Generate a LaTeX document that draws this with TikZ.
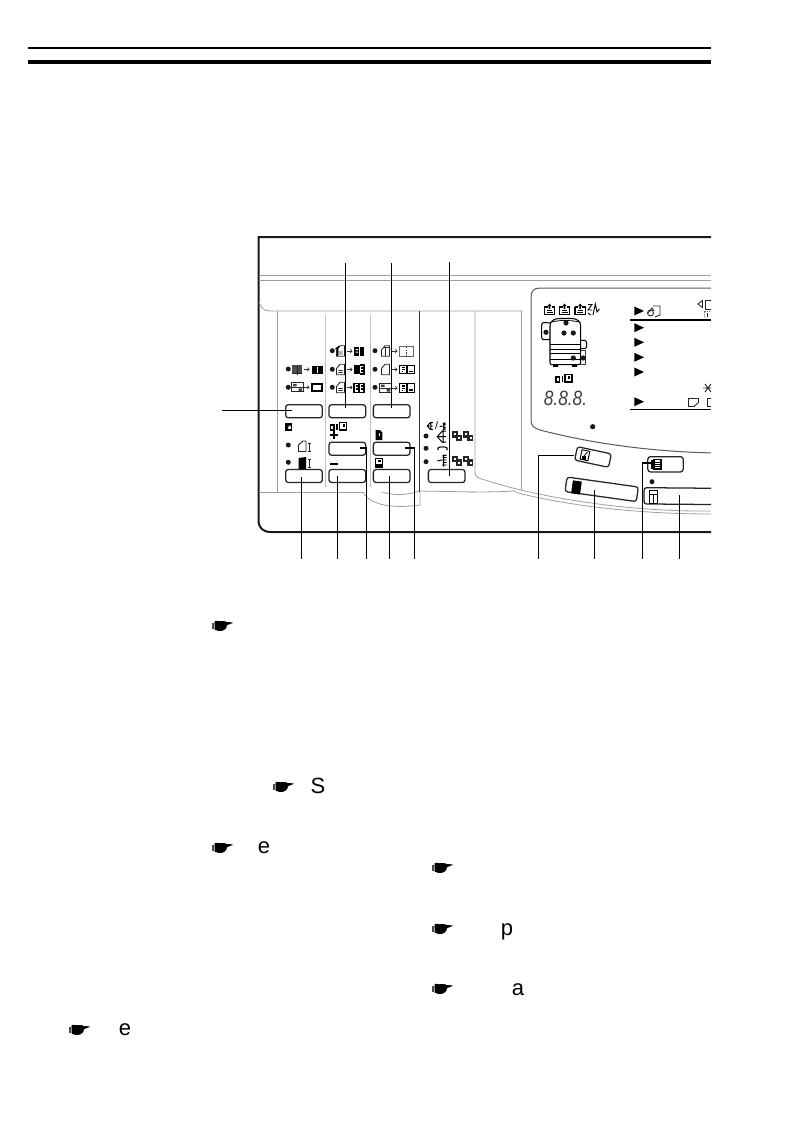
\documentclass[tikz,border=0pt]{standalone}
\usepackage{fontspec}
\setmainfont{Liberation Sans}
\newfontfamily\handfont{DejaVu Sans}
\usetikzlibrary{arrows.meta}
\definecolor{panelgrey}{gray}{0.62}
\definecolor{edgegrey}{gray}{0.35}
\tikzset{
  frame/.style={line width=1.5pt,black!90},
  thin grey/.style={line width=0.6pt,panelgrey},
  panel line/.style={line width=0.75pt,edgegrey},
  btn/.style={draw=black!85,line width=0.95pt,rounded corners=2pt,inner sep=0pt,fill=white},
  leader/.style={line width=0.8pt,black},
  led/.style={fill=black!90},
  ic/.style={line width=0.65pt,black!85},
  handmark/.style={font=\handfont\fontsize{12}{12}\selectfont,inner sep=0pt},
  bodytext/.style={font=\fontsize{16.5}{16.5}\selectfont,inner sep=0pt},
  tinyarrow/.style={line width=0.5pt,black!80,-{Straight Barb[length=1.2pt,width=2.6pt]}},
  srcdoc/.pic={\draw[ic] (-4,5.2)--(-4,-1)--(-0.5,-5.2)--(4,-5.2)--(4,5.2)--cycle (-2.2,1)--(2.2,1) (-2.2,3)--(2.2,3);},
  srcdocd/.pic={\draw[ic] (-4,5.2)--(-4,-1)--(-0.5,-5.2)--(4,-5.2)--(4,5.2)--cycle (-2.2,1)--(2.2,1) (-2.2,3)--(2.2,3); \draw[line width=0.9pt] (-2.8,-3)--(-2.8,5) (-5,-2)--(-1,-5);},
  srcopen/.pic={\draw[ic] (-4,5.2)--(-4,-1)--(-0.5,-5.2)--(4,-5.2)--(4,5.2)--cycle;},
  srcbook/.pic={\fill[black!70] (-5.5,-4.5) rectangle (4.5,3.5); \draw[ic] (-5.5,4.5)--(4.5,4.5) (0,-4.5)--(0,5.5);},
  srcfan/.pic={\draw[ic] (-6,-4.5) rectangle (5.5,4.5) (-6,0)--(5.5,0); \fill[black!75] (-4.5,-3.5) rectangle (-1,-1) (1,1) rectangle (4.5,3.5);},
  tgtleftright/.pic={\draw[line width=1pt,black] (-7.5,-4.3) rectangle (-0.5,4.3); \draw[line width=1pt] (-5.5,-2)--(-2.5,-2) (-5.5,0.2)--(-2.5,0.2) (-5.5,2.2)--(-4.5,2.2); \draw[line width=0.8pt,black] (0.5,-4.3) rectangle (7.5,4.3); \draw[line width=1.2pt] (2,2)--(6,2);},
  tgtpair/.pic={\fill[black] (-5,-4.5) rectangle (5,4.5); \fill[white] (-0.3,-4.5) rectangle (0.3,4.5); \fill[white] (-3.5,-2.5) rectangle (-1,-1.5) (-3.5,0) rectangle (-1,1);},
  tgtpairw/.pic={\draw[line width=0.85pt] (-5,-4.5) rectangle (5,4.5) (0,-4.5)--(0,4.5) (-3.5,-2)--(-1.5,-2) (-3.5,1)--(-1.5,1) (1.5,-2)--(3.5,-2) (1.5,1)--(3.5,1);},
  sheetblack/.pic={\fill[black] (-3.3,-5)--(1,-5)--(3.3,-2.5)--(3.3,5)--(-3.3,5)--cycle; \fill[white] (-0.5,-2.5) rectangle (1,0.5);},
  sheetwhite/.pic={\draw[line width=0.9pt] (-3.3,-4.5) rectangle (3.3,4.5); \fill[black] (-3.3,1) rectangle (3.3,4.5); \fill[black] (-1,-3) rectangle (1.5,-1);},
  pairdoc/.pic={\fill[black!85] (-5,-5) rectangle (1,1.5); \fill[black!85] (-1,-1.5) rectangle (5,5); \fill[white] (-3.2,-3.2) rectangle (-1.2,-0.8); \fill[white] (1.2,1) rectangle (3.2,3);},
  tray/.pic={\draw[line width=0.8pt,black] (-5.2,-2)--(-5.2,5.5)--(5.2,5.5)--(5.2,-2)--(2,-2) (-5.2,-2)--(-2,-2); \draw[line width=0.9pt] (-3,3.5)--(3,3.5) (-2.5,1.8)--(2.5,1.8); \fill[black] (-2,-3)--(0,-5.5)--(2,-3)--(0.8,-3)--(0.8,0)--(-0.8,0)--(-0.8,-3)--cycle;},
  ratioicon/.pic={\draw[line width=0.8pt] (-8,-1.5) rectangle (-4.5,3.5); \fill[black] (-2.5,-3) rectangle (-1,3.5); \draw[line width=0.9pt] (1,-4) rectangle (8,3.5); \fill[black] (4,-2.5) rectangle (6,0);},
  feedsym/.pic={\draw[line width=0.7pt] (4.5,-5.5)--(0.5,-5.5)--(-4.5,0)--(0.5,5.5)--(4.5,5.5) (-4.5,0)--(4.5,0) (1.5,-6.5)--(1.5,6.5);},
  feedsymb/.pic={\draw[line width=0.7pt] (5,-5)--(0.5,-4) (-4.5,1)--(0,0)--(5,0) (0.5,5)--(5,5) (2,-5.5)--(2,6.5) (1,-2.5)--(5,-2.5) (1,2.5)--(5,2.5);}
}
\newcommand{\handat}[3]{%
  \fill[black] (#2-7.5,#3-3.4) .. controls (#2-3,#3-5.3) and (#2+2,#3-5.3) .. (#2+4.5,#3-4)
    -- (#2+10.5,#3-3.6) -- (#2+10.5,#3-3) -- (#2+5,#3-0.8)
    .. controls (#2+5,#3+3) and (#2+1,#3+5.6) .. (#2-3.5,#3+5) -- (#2-7.5,#3+3.6) -- cycle;
  \fill[black!70] (#2-10,#3-2.6) rectangle (#2-8,#3+3.2);
  \node[handmark] (#1) at (#2-1.5,#3) {☛};}
\begin{document}
\begin{tikzpicture}[x=0.75pt,y=-0.75pt]
\useasboundingbox (0,0) rectangle (786,1136);
% header rules
\coordinate (hl) at (28,47.7); \coordinate (hr) at (711,47.7);
\coordinate (ml) at (28,62); \coordinate (mr) at (711,62);
\draw[line width=1.6pt] (hl)--(hr);
\draw[line width=3.2pt] (ml)--(mr);
% panel frame
\draw[frame] (711,237)--(258.5,237)--(258.5,520) .. controls (258.5,528) and (263,532) .. (271,532) -- (711,532);
% grey long lines
\draw[thin grey] (258.5,275)--(711,275) (258.5,280.5)--(711,280.5);
\draw[thin grey] (259,302) .. controls (261,307) and (263,311) .. (270,311) -- (522,311);
\draw[thin grey] (277,311)--(277,492) (258.5,492)--(363,492);
\draw[thin grey,black!25] (325.7,315)--(325.7,487) (370,315)--(370,487);
\draw[thin grey] (521.7,311)--(521.7,490);
% tab
\draw[thin grey] (363,492) .. controls (367,500) and (378,505) .. (392,506) .. controls (402,507) and (412,506) .. (420,505) -- (420,492);
\draw[thin grey] (382,492) .. controls (395,496) and (408,495) .. (420,491) -- (475,492);
% console curves
\draw[thin grey] (475,311)--(475,472) .. controls (475,477) and (478,478) .. (485,480) .. controls (540,498) and (630,512) .. (711,511);
\draw[thin grey] (470,492) .. controls (540,492) and (500,488) .. (522,494) .. controls (580,508) and (650,514) .. (711,514);
% display panel
\begin{scope}
\clip (0,0) rectangle (711,1136);
\draw[panel line] (718,288)--(540,288) .. controls (534,288) and (531,291) .. (531,297) -- (531,420) .. controls (531,426) and (534,428) .. (540,430) .. controls (590,443) and (650,452) .. (718,453);
\fill[led] (592.7,426.7) circle (2.6);
% display rules
\coordinate (r1a) at (630,320); \coordinate (r1b) at (711,320);
\coordinate (r2a) at (630,409.5); \coordinate (r2b) at (711,409.5);
\draw[line width=1.2pt] (r1a)--(r1b) (r2a)--(r2b);
\foreach \ty in {311,327.7,342.3,357.3,372,401.7}
  \fill[black] (634.3,\ty-4.5)--(644,\ty)--(634.3,\ty+4.5)--cycle;
% hand + sheet icon
\draw[ic] (653,306)--(660,306)--(660,315)--(655,317);
\draw[ic,fill=white] (650.5,313) circle (3);
\draw[ic] (648,313)--(652,308)--(654,311);
% top right
\draw[ic] (702.5,300.5)--(698,304)--(702.5,307.5)--cycle;
\draw[ic] (712,300)--(705,300)--(705,309)--(712,309);
\draw[ic,black!60,dash pattern=on 1pt off 0.6pt] (704,317)--(704,311)--(712,311);
\draw[ic] (707,317)--(707,313);
% star
\draw[ic,line width=0.7pt] (703,388)--(712,388) (705,384)--(711,392) (711,384)--(705,392);
% bottom sheets
\draw[ic,line width=0.7pt] (688.5,398.5)--(698.5,398.5)--(698.5,402.5)--(694,406.5)--(688.5,406.5)--cycle;
\draw[ic,line width=0.7pt] (712,398)--(707.5,398)--(707.5,406.5)--(712,406.5);
% button 4
\node[btn,minimum width=90pt,minimum height=12.2pt,anchor=west,rotate=-0.5] (bsort) at (643.3,495.8) {};
\fill[white] (711.4,480) rectangle (730,510);
\draw[line width=0.7pt] (649,490.5) rectangle (657.5,503.5) (649,494)--(657.5,494);
\draw[line width=0.7pt] (653,494)--(653,503.5);
\end{scope}
% machine diagram
\draw[line width=0.8pt] (550,326) .. controls (550,321) and (554,318.5) .. (560,318.5) -- (571,318.5) .. controls (577,318.5) and (580.7,321) .. (580.7,326) -- (580.7,362.5) .. controls (580.7,364) and (580,364.7) .. (578.5,364.7) -- (552,364.7) .. controls (550.7,364.7) and (550,364) .. (550,362.5) -- cycle;
\draw[line width=0.6pt] (552,322) .. controls (558,320) and (572,320) .. (579,322);
\draw[line width=0.8pt] (550,323)--(544,322.5) .. controls (542.5,322.5) and (541.7,323.5) .. (541.7,325) -- (541.7,337) .. controls (541.7,339) and (542.5,339.7) .. (544,339.7) -- (550,339.7);
\draw[line width=0.7pt] (580.7,340.3)--(585,340.3) .. controls (586.2,340.3) and (586.7,341) .. (586.7,342) -- (586.7,347) .. controls (586.7,348) and (586.2,348.7) .. (585,348.7) -- (580.7,348.7);
\draw[line width=0.7pt] (550,344.7)--(580.7,344.7) (550,353)--(580.7,353) (550,359.7)--(580.7,359.7) (550,349)--(580.7,349);
\draw[line width=0.6pt,black!75] (580.7,350.7)--(585,350.7)--(585,364.7)--(580.7,364.7);
\fill[black] (553,364.7) rectangle (558,366.8) (572,364.7) rectangle (577,366.8);
\foreach \lx/\ly in {566/323,546/332.3,564/333,573.3/333,573.3/358,583.3/358}
  \fill[led] (\lx,\ly) circle (2.6);
\pic at (549.5,309) {tray};
\pic at (564.5,309) {tray};
\pic at (580.2,309) {tray};
\draw[line width=0.7pt] (588,304.5)--(592,304.5)--(588,310)--(592,310) (593,315)--(595.3,304)--(597,312)--(599.5,309);
\draw[line width=0.7pt] (588,313)--(590.5,315);
\pic at (564,378.5) {ratioicon};
\node[font=\itshape\fontsize{15.5}{15.5}\selectfont,inner sep=0pt,text=black!75,xscale=0.84,transform shape] (count) at (565.5,398.5) {8.8.8.};
% buttons
\def\bw{27.5pt}\def\bh{9.8pt}
\tikzset{keyb/.style={btn,minimum width=\bw,minimum height=\bh}}
\node[keyb] (b1) at (304,411.2) {};
\node[keyb] (b2) at (347.3,411.2) {};
\node[keyb] (b3) at (391.7,411.2) {};
\node[keyb] (b4) at (347.3,448.7) {};
\node[keyb] (b5) at (391.7,448.7) {};
\node[keyb] (b6) at (304,476) {};
\node[keyb] (b7) at (347.3,476) {};
\node[keyb] (b8) at (391.7,476) {};
\node[keyb] (b9) at (446.7,476) {};
\node[btn,minimum width=26pt,minimum height=10.3pt,rotate=-12] (bclear) at (593,457) {};
\node[btn,minimum width=54pt,minimum height=11pt,rotate=-8] (bstart) at (601.7,489.3) {};
\node[btn,minimum width=26.5pt,minimum height=11.5pt] (blist) at (665.5,464.3) {};
% button icons
\draw[line width=0.7pt,rotate around={-12:(585,455)}] (581,450.5) rectangle (589,460);
\fill[black] (581.5,455.5) rectangle (585.5,459.5);
\draw[line width=0.6pt] (584,456)--(587.5,452);
\fill[black,rotate around={-8:(577,487)}] (572,481) rectangle (581,494);
\draw[line width=0.8pt] (652,459.5)--(652,469) (654,459.5) rectangle (661,469) (655,462.5)--(660,462.5) (655,464.5)--(660,464.5) (655,466.5)--(660,466.5);
\fill[led] (652,481.7) circle (2.5);
% indicators
\foreach \lx/\ly in {288.3/369,288.3/387.3,332.3/350.7,332.3/369.3,332.3/387.3,375/350.7,375/369.3,375/387.3,288.3/445,288.3/462.3,426/436,426/448.3,426/461.7}
  \fill[led] (\lx,\ly) circle (2.5);
\pic at (297.5,369.3) {srcbook};
\pic at (297.5,387.3) {srcfan};
\draw[tinyarrow] (303.5,369.3)--(309.5,369.3);
\draw[tinyarrow] (303.5,387.3)--(309.5,387.3);
\fill[black] (311.7,365.5) rectangle (322.7,374);
\fill[white] (316.5,367) rectangle (318,372.5);
\draw[line width=1.1pt] (312.2,384) rectangle (322.2,391);
% column 2
\pic at (340.5,351) {srcdocd};
\pic at (340.5,369.5) {srcdoc};
\pic at (340.5,387.5) {srcdoc};
\foreach \ay in {351,369.5,387.5} \draw[tinyarrow] (346.5,\ay)--(352.5,\ay);
\pic at (359,351.5) {tgtpair};
\fill[black] (354,365)--(360,365)--(360,374)--(354,374)--cycle;
\draw[line width=0.9pt] (360,365)--(364,365)--(364,374)--(360,374) (361,368)--(363,368) (361,371)--(363,371);
\pic at (359,388) {tgtpairw};
% column 3
\pic at (385.5,351) {srcopen};
\draw[ic] (383,347)--(388.5,347) ;
\draw[ic] (385.5,346.5)--(385.5,355.5);
\pic at (385.5,369.5) {srcopen};
\pic at (385.5,388) {srcfan};
\foreach \ay in {351,369.5,388} \draw[tinyarrow] (391.5,\ay)--(397.5,\ay);
\draw[line width=0.5pt,black!60] (399,346.7) rectangle (413.5,356);
\draw[line width=0.7pt,black!80,dash pattern=on 1pt off 1pt] (406.3,347)--(406.3,356);
\pic at (407,369.5) {tgtleftright};
\pic at (407,388) {tgtleftright};
% lower panel icons
\draw[line width=0.8pt] (285.5,424) rectangle (291.5,430);
\fill[black] (285.5,424) rectangle (291.5,426.5) (285.5,424) rectangle (288,430);
\fill[white] (288.5,425.5)--(290.5,425.5)--(290.5,428.5)--cycle;
\draw[ic,line width=0.7pt] (298.5,451.5)--(298.5,445)--(303,441)--(306,441)--(306,451.5)--cycle;
\draw[ic,line width=0.7pt] (307.5,443)--(310.5,443) (309,443)--(309,451) (307.5,451)--(310.5,451);
\fill[black] (298.5,469)--(298.5,458)--(306,457)--(306,469)--cycle;
\draw[ic,line width=0.7pt] (307.5,459)--(310.5,459) (309,459)--(309,467) (307.5,467)--(310.5,467);
\pic at (338.5,426.5) {ratioicon};
\draw[line width=1.1pt] (330,435)--(338,435) (334,431)--(334,439);
\draw[line width=1.4pt] (330,464)--(338,464);
\pic at (379,435) {sheetblack};
\pic at (379,463) {sheetwhite};
% feed column
\pic[scale=0.62] at (430,426) {feedsym};
\node[font=\fontsize{8}{8}\selectfont,inner sep=0pt] (slash) at (436.5,426) {/};
\pic[scale=0.62] at (442.5,426) {feedsymb};
\pic at (441.7,436.7) {feedsym};
\draw[line width=0.8pt] (438,450)--(438,448) .. controls (438.5,446.5) and (446.5,446.5) .. (447,448) -- (447,450);
\pic at (441.7,460) {feedsymb};
\pic at (456.7,436) {pairdoc};
\pic at (468.3,436) {pairdoc};
\pic at (456.7,460.7) {pairdoc};
\pic at (468.3,460.7) {pairdoc};
% leaders
\coordinate (t1) at (222,410.3);
\coordinate (t2) at (345.3,263);
\coordinate (t3) at (391.3,263);
\coordinate (t4) at (449.3,262);
\coordinate (c5) at (419.3,311);
\coordinate (c5e) at (419.3,492);
\foreach \nm/\lx in {f6/301.3,f7/337.3,f8/366.3,f9/389.3,f10/414.7,f11/538.3,f12/594.3,f13/642.3,f14/679.3}
  \coordinate (\nm) at (\lx,558.5);
\draw[leader] (t1)--(291.7,410.3);
\draw[leader] (t2)--(345.3,408);
\draw[leader] (t3)--(391.3,408);
\draw[leader] (t4)--(449.3,476);
\draw[leader,black!80,line width=0.7pt] (c5)--(c5e);
\draw[leader] (f6)--(301.3,477);
\draw[leader] (f7)--(337.3,476);
\draw[leader] (f8)--(366.3,448)--(360,448);
\draw[leader] (f9)--(389.3,476);
\draw[leader] (f10)--(414.7,448)--(405,448);
\draw[leader] (f11)--(538.3,455.7)--(574,455.7);
\draw[leader] (f12)--(594.3,490);
\draw[leader] (f13)--(642.3,463)--(652.7,463);
\draw[leader] (f14)--(679.3,495);
% text
\handat{h1}{222}{626}
\handat{h2}{283}{787}
\handat{h3}{222}{848}
\handat{h4}{79}{1030}
\handat{h5}{442}{868}
\handat{h6}{442}{929}
\handat{h7}{442}{989}
\node[bodytext,anchor=base] (s1) at (318,793) {S};
\node[bodytext,anchor=base] (s2) at (264,853.5) {e};
\node[bodytext,anchor=base] (s3) at (125,1035.5) {e};
\node[bodytext,anchor=base] (s4) at (507,935) {p};
\node[bodytext,anchor=base] (s5) at (518,995) {a};
\end{tikzpicture}
\end{document}
